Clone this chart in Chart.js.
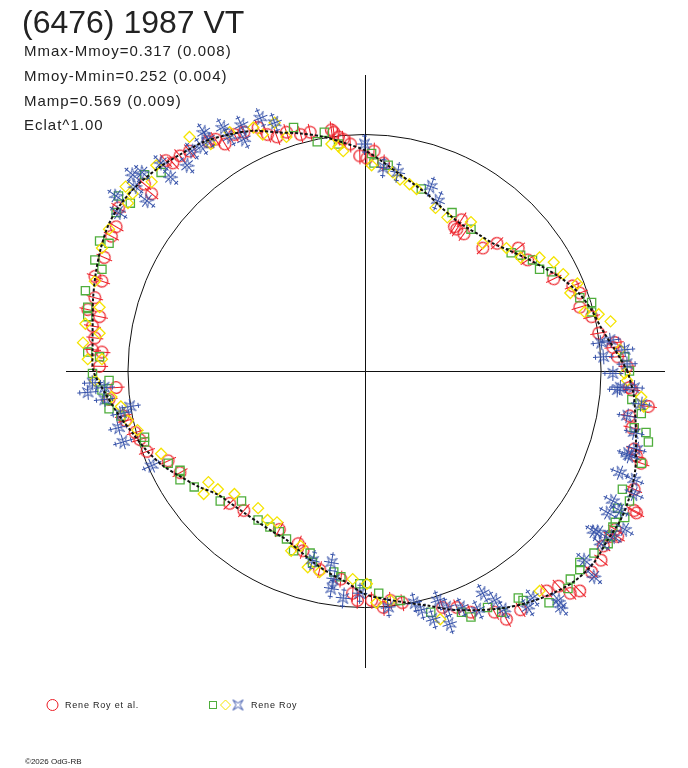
<!DOCTYPE html>
<html>
<head>
<meta charset="utf-8">
<script src="https://cdn.jsdelivr.net/npm/chart.js@4.4.1/dist/chart.umd.min.js"></script>
<style>
  html, body { margin: 0; padding: 0; background: #fff; }
  #wrap { position: relative; width: 688px; height: 768px; overflow: hidden; }
  #c { position: absolute; left: 0; top: 0; }
  .t { position: absolute; font-family: "Liberation Sans", Arial, sans-serif; color: #222; white-space: nowrap; line-height: 1; }
</style>
</head>
<body>
<div id="wrap">
  <canvas id="c" width="688" height="768"></canvas>
  <div class="t" style="left:22px;top:6px;font-size:32px;">(6476) 1987 VT</div>
  <div class="t" style="left:24px;top:43px;font-size:15px;letter-spacing:1px;">Mmax-Mmoy=0.317 (0.008)</div>
  <div class="t" style="left:24px;top:68px;font-size:15px;letter-spacing:1px;">Mmoy-Mmin=0.252 (0.004)</div>
  <div class="t" style="left:24px;top:93px;font-size:15px;letter-spacing:1px;">Mamp=0.569 (0.009)</div>
  <div class="t" style="left:24px;top:117px;font-size:15px;letter-spacing:1px;">Eclat^1.00</div>
  <div class="t" style="left:65px;top:701px;font-size:9px;letter-spacing:0.8px;">Rene Roy et al.</div>
  <div class="t" style="left:251px;top:701px;font-size:9px;letter-spacing:0.8px;">Rene Roy</div>
  <div class="t" style="left:25px;top:758px;font-size:8px;">©2026 OdG-RB</div>
</div>
<script>
// ---- Fourier fit (phase angle in degrees, radius relative to the reference circle) ----
const curveDeg = [0,5,10,15,20,25,30,35,40,45,50,55,60,65,70,75,80,85,90,95,100,105,110,115,120,125,130,135,140,145,150,155,160,165,170,175,180,185,190,195,200,205,210,215,220,225,230,235,240,245,250,255,260,265,270,275,280,285,290,295,300,305,310,315,320,325,330,335,340,345,350,355];
const curveRad = [1.112,1.061,1.019,0.994,0.964,0.922,0.875,0.833,0.795,0.765,0.753,0.744,0.748,0.765,0.791,0.816,0.846,0.888,0.934,0.968,1.006,1.040,1.074,1.121,1.154,1.184,1.201,1.222,1.239,1.249,1.247,1.230,1.209,1.188,1.167,1.154,1.146,1.099,1.057,1.015,0.981,0.943,0.896,0.854,0.812,0.795,0.786,0.782,0.782,0.786,0.808,0.837,0.867,0.896,0.943,0.968,0.994,1.027,1.074,1.116,1.159,1.197,1.230,1.256,1.264,1.252,1.252,1.239,1.218,1.188,1.163,1.142];

// ---- Observations, Rene Roy et al. (red circles) ----
const redX = [0.91,0.96,0.99,1.06,1.07,1.11,1.12,1.13,1.20,1.12,1.13,1.14,1.17,1.15,1.14,1.15,1.06,1.04,1.01,0.39,0.42,0.50,0.56,0.65,0.69,0.80,0.88,0.91,1.05,-0.13,-0.09,-0.06,0.01,0.04,0.08,0.38,0.41,-0.84,-0.81,-0.78,-0.74,-0.66,-0.63,-0.59,-0.55,-0.51,-0.45,-0.41,-0.37,-0.33,-0.27,-0.23,-0.14,-0.11,-0.02,-0.93,-0.90,-1.04,-1.05,-1.07,-1.10,-1.14,-1.11,-1.14,-1.17,-1.12,-1.15,-1.14,-1.15,-1.11,-1.12,-1.05,-1.08,-1.01,-0.97,-1.02,-0.95,-0.92,-0.83,-0.78,-0.57,-0.51,-0.36,-0.28,-0.26,-0.19,-0.10,-0.05,-0.03,0.03,0.08,0.11,0.16,0.33,0.39,0.45,0.55,0.60,0.66,0.77,0.82,0.87,0.91,0.96,1.00,1.07,1.14];
const redY = [0.33,0.23,0.16,0.12,0.06,0.02,-0.07,-0.08,-0.15,-0.19,-0.24,-0.33,-0.39,-0.36,-0.50,-0.60,-0.67,-0.70,-0.74,0.60,0.58,0.52,0.54,0.52,0.47,0.39,0.36,0.27,0.10,1.01,0.98,0.96,0.90,0.93,0.88,0.61,0.64,0.89,0.88,0.91,0.93,0.97,0.98,0.96,1.00,1.01,1.03,1.00,0.99,1.01,1.00,1.01,1.02,0.99,0.91,0.79,0.75,0.69,0.61,0.57,0.48,0.40,0.38,0.31,0.26,0.23,0.19,0.14,0.09,0.08,0.02,-0.07,-0.12,-0.21,-0.26,-0.19,-0.29,-0.34,-0.38,-0.43,-0.56,-0.59,-0.67,-0.73,-0.76,-0.84,-0.88,-0.94,-0.97,-0.97,-1.00,-0.97,-0.98,-1.00,-1.00,-1.02,-1.02,-1.05,-1.01,-0.93,-0.91,-0.94,-0.93,-0.85,-0.80,-0.70,-0.59];

// ---- Observations, Rene Roy (green squares) ----
const greenX = [0.91,0.96,0.96,1.10,1.12,1.13,1.17,1.14,1.19,1.20,1.17,1.09,1.12,1.07,1.06,1.04,1.03,0.45,0.62,0.66,0.71,0.74,0.79,0.03,0.04,0.10,0.24,0.37,-0.30,-0.20,-0.17,-0.11,-0.93,-0.86,-0.99,-1.04,-1.05,-1.12,-1.08,-1.14,-1.11,-1.18,-1.17,-1.17,-1.17,-1.12,-1.15,-1.08,-1.11,-1.08,-0.93,-1.09,-1.03,-0.93,-0.83,-0.78,-0.78,-0.72,-0.61,-0.52,-0.45,-0.40,-0.36,-0.33,-0.30,-0.23,-0.22,-0.13,-0.10,-0.02,0.06,0.01,0.15,0.28,0.41,0.45,0.52,0.58,0.65,0.67,0.78,0.86,0.87,0.91,0.91,0.97,1.05,1.10];
const greenY = [0.31,0.29,0.25,0.06,0.00,-0.12,-0.18,-0.24,-0.26,-0.30,-0.39,-0.50,-0.55,-0.58,-0.64,-0.70,-0.73,0.60,0.50,0.49,0.47,0.43,0.42,0.92,0.88,0.87,0.77,0.67,1.03,0.97,1.01,0.96,0.83,0.84,0.71,0.74,0.67,0.55,0.54,0.47,0.43,0.34,0.27,0.23,0.08,0.06,-0.01,-0.04,-0.08,-0.16,-0.28,-0.12,-0.19,-0.30,-0.39,-0.42,-0.46,-0.49,-0.55,-0.55,-0.63,-0.66,-0.68,-0.71,-0.76,-0.77,-0.81,-0.85,-0.87,-0.90,-0.94,-0.90,-0.97,-1.02,-1.02,-1.04,-1.00,-1.02,-0.96,-0.97,-0.98,-0.92,-0.88,-0.84,-0.81,-0.77,-0.66,-0.62];

// ---- Observations, Rene Roy (yellow diamonds) ----
const yellowX = [0.87,0.93,0.99,1.04,1.08,1.10,1.11,1.17,1.18,0.45,0.50,0.60,0.66,0.74,0.80,0.84,0.90,-0.11,-0.09,0.03,0.12,0.15,0.19,0.22,0.30,0.35,-0.74,-0.65,-0.57,-0.47,-0.43,-0.38,-0.33,-0.14,-0.88,-0.90,-0.98,-1.01,-1.00,-1.08,-1.11,-1.14,-1.12,-1.18,-1.12,-1.19,-1.17,-1.11,-1.14,-1.07,-1.00,-0.96,-1.03,-0.86,-0.66,-0.68,-0.62,-0.55,-0.45,-0.41,-0.37,-0.31,-0.27,-0.24,-0.19,-0.05,0.01,0.05,0.11,0.32,0.74];
const yellowY = [0.33,0.25,0.24,0.21,0.09,-0.01,-0.04,-0.11,-0.15,0.63,0.54,0.52,0.48,0.48,0.46,0.41,0.37,0.95,0.93,0.87,0.84,0.81,0.79,0.77,0.69,0.65,0.99,0.96,1.01,1.03,1.00,1.05,0.99,0.96,0.87,0.80,0.75,0.78,0.71,0.60,0.52,0.38,0.27,0.20,0.16,0.12,0.05,0.05,-0.04,-0.11,-0.21,-0.25,-0.15,-0.35,-0.47,-0.52,-0.50,-0.52,-0.58,-0.63,-0.64,-0.76,-0.74,-0.83,-0.85,-0.88,-0.90,-0.98,-0.97,-1.05,-0.93];

// ---- Observations, Rene Roy (blue stars) ----
const blueX = [-0.68,-0.66,-0.69,-0.73,-0.75,-0.82,-0.86,-0.94,-0.97,-0.92,-1.05,-1.04,-0.60,-0.52,-0.51,-0.44,-0.38,-0.57,-0.98,0.00,0.08,0.14,0.28,0.31,-1.15,-1.17,-1.10,-1.10,-1.03,-0.99,-1.04,-1.02,-0.90,-0.22,-0.14,-0.13,-0.14,-0.09,-0.02,1.00,1.04,1.01,1.05,1.08,1.11,1.10,1.14,1.11,1.14,1.11,1.15,1.08,1.14,1.14,1.05,1.08,1.03,1.10,0.99,1.05,1.00,1.17,1.07,1.12,0.97,0.93,0.97,0.82,0.83,0.71,0.69,0.59,0.55,0.50,0.48,0.41,0.35,0.31,0.29,0.24,0.21,0.10,0.36];
const blueY = [1.01,0.98,0.95,0.93,0.87,0.82,0.88,0.84,0.78,0.72,0.74,0.67,1.03,1.04,0.98,1.07,1.05,0.99,0.83,0.96,0.86,0.84,0.78,0.72,-0.05,-0.09,-0.07,-0.12,-0.18,-0.15,-0.24,-0.30,-0.40,-0.80,-0.81,-0.88,-0.92,-0.96,-0.94,0.12,0.13,0.06,-0.01,-0.07,0.03,0.09,-0.07,-0.19,-0.26,-0.35,-0.33,-0.43,-0.46,-0.52,-0.55,-0.59,-0.60,-0.67,-0.68,-0.70,-0.73,-0.14,-0.08,-0.36,-0.68,-0.80,-0.87,-0.97,-1.00,-0.96,-1.00,-1.01,-0.97,-0.94,-1.01,-1.00,-1.00,-0.97,-1.05,-1.01,-0.98,-1.00,-1.07];

const RED = '#ec1c24', GREEN = '#4fae3c', YELLOW = '#f5e400', BLUE = '#3450a8';

function pts(xs, ys) { return xs.map((x, i) => ({ x: x, y: ys[i] })); }
function polar(deg, rad) {
  const a = deg.map((d, i) => ({ x: rad[i] * Math.cos(d * Math.PI / 180), y: rad[i] * Math.sin(d * Math.PI / 180) }));
  a.push(a[0]);
  return a;
}
// marker glyphs (error bar drawn horizontally, rotated to the radial direction when plotted)
function starImage(color, withBar) {
  const c = document.createElement('canvas');
  c.width = 21; c.height = 21;
  const g = c.getContext('2d');
  g.strokeStyle = color; g.lineWidth = 1;
  g.beginPath();
  g.moveTo(5.5, 5.5); g.lineTo(10.5, 8.5); g.lineTo(15.5, 5.5); g.lineTo(12.5, 10.5);
  g.lineTo(15.5, 15.5); g.lineTo(10.5, 12.5); g.lineTo(5.5, 15.5); g.lineTo(8.5, 10.5);
  g.closePath(); g.stroke();
  if (withBar) {
    g.beginPath();
    g.moveTo(0, 10.5); g.lineTo(21, 10.5);
    g.moveTo(10.5, 3); g.lineTo(10.5, 18);
    g.moveTo(2.5, 8); g.lineTo(2.5, 13);
    g.moveTo(18.5, 8); g.lineTo(18.5, 13);
    g.stroke();
  }
  return c;
}
function circleImage(color) {
  const c = document.createElement('canvas');
  c.width = 19; c.height = 19;
  const g = c.getContext('2d');
  g.strokeStyle = color; g.lineWidth = 1.2;
  g.beginPath(); g.arc(9.5, 9.5, 5.8, 0, Math.PI * 2); g.stroke();
  g.lineWidth = 1;
  g.beginPath(); g.moveTo(1, 9.5); g.lineTo(18, 9.5); g.stroke();
  return c;
}
const starPlot = starImage(BLUE, true);
const starLegend = starImage(BLUE, false);
const circlePlot = circleImage(RED);
function radialRotation(ctx) {
  const p = ctx.raw;
  return p ? -Math.atan2(p.y, p.x) * 180 / Math.PI : 0;
}

const refPlugin = {
  id: 'refs',
  beforeDatasetsDraw(chart) {
    const ctx = chart.ctx, xs = chart.scales.x, ys = chart.scales.y, ca = chart.chartArea;
    const cx = xs.getPixelForValue(0), cy = ys.getPixelForValue(0);
    const r = xs.getPixelForValue(1) - cx;
    ctx.save();
    ctx.strokeStyle = '#111'; ctx.lineWidth = 1;
    ctx.beginPath();
    ctx.moveTo(ca.left, Math.round(cy) + 0.5); ctx.lineTo(ca.right + 1, Math.round(cy) + 0.5);
    ctx.moveTo(Math.round(cx) + 0.5, ca.top); ctx.lineTo(Math.round(cx) + 0.5, ca.bottom);
    ctx.stroke();
    ctx.beginPath();
    ctx.arc(cx, cy, r, 0, Math.PI * 2);
    ctx.stroke();
    ctx.restore();
  },
  afterDraw(chart) {
    const ctx = chart.ctx;
    ctx.save();
    ctx.lineWidth = 1;
    ctx.strokeStyle = RED;
    ctx.beginPath(); ctx.arc(52.5, 705, 5.5, 0, Math.PI * 2); ctx.stroke();
    ctx.strokeStyle = GREEN;
    ctx.strokeRect(209.5, 701.5, 7, 7);
    ctx.strokeStyle = YELLOW;
    ctx.beginPath(); ctx.moveTo(225.5, 700); ctx.lineTo(230.5, 705); ctx.lineTo(225.5, 710); ctx.lineTo(220.5, 705); ctx.closePath(); ctx.stroke();
    ctx.drawImage(starLegend, 238 - 10.5, 705 - 10.5);
    ctx.restore();
  }
};

new Chart(document.getElementById('c'), {
  type: 'scatter',
  data: {
    datasets: [
      { label: 'fit', data: polar(curveDeg, curveRad), showLine: true, borderColor: '#111', borderWidth: 2, borderDash: [3, 2], pointRadius: 0, tension: 0.3, order: 0 },
      { label: 'Rene Roy (stars)', data: pts(blueX, blueY), pointStyle: starPlot, pointRadius: 10, rotation: radialRotation, order: 1 },
      { label: 'Rene Roy (diamonds)', data: pts(yellowX, yellowY), pointStyle: 'rectRot', pointRadius: 5.5, borderColor: YELLOW, backgroundColor: 'rgba(0,0,0,0)', borderWidth: 1.3, order: 2 },
      { label: 'Rene Roy (squares)', data: pts(greenX, greenY), pointStyle: 'rect', pointRadius: 5.8, borderColor: GREEN, backgroundColor: 'rgba(0,0,0,0)', borderWidth: 1.3, order: 3 },
      { label: 'Rene Roy et al.', data: pts(redX, redY), pointStyle: circlePlot, pointRadius: 9, rotation: radialRotation, order: 4 }
    ]
  },
  options: {
    responsive: false,
    animation: false,
    events: [],
    layout: { padding: { left: 66, right: 24, top: 75, bottom: 100 } },
    plugins: { legend: { display: false }, title: { display: false }, tooltip: { enabled: false } },
    scales: {
      x: { type: 'linear', min: -1.262, max: 1.266, display: false },
      y: { type: 'linear', min: -1.256, max: 1.252, display: false }
    }
  },
  plugins: [refPlugin]
});
</script>
</body>
</html>
